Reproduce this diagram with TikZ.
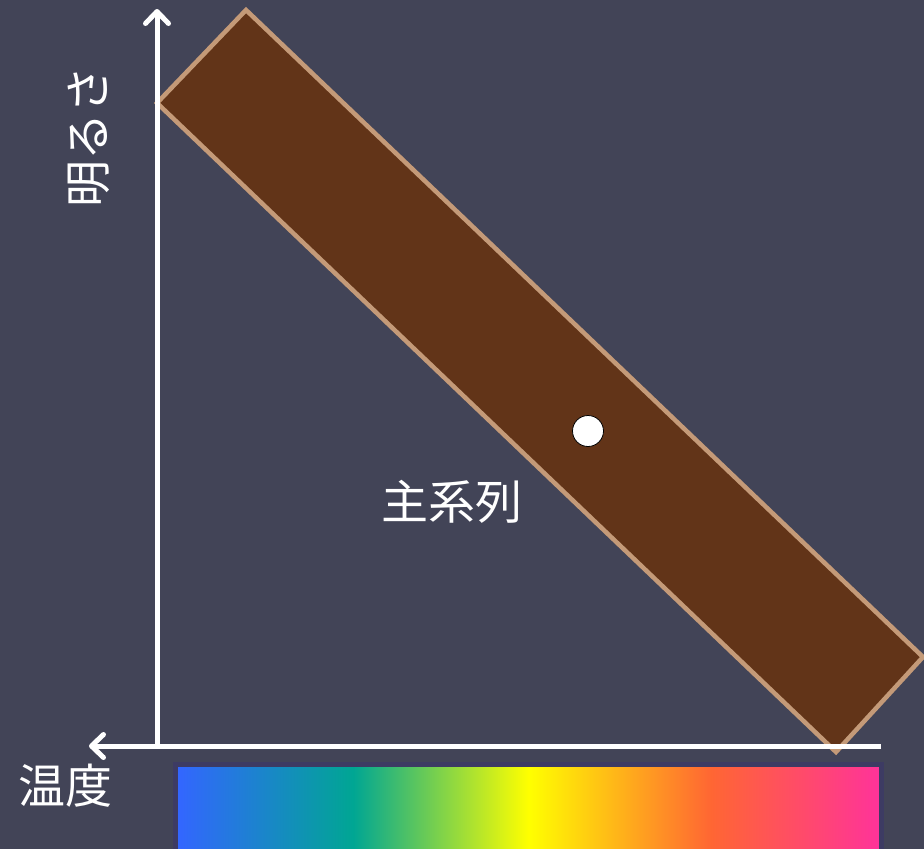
\documentclass[tikz,border=0pt]{standalone}
\usepackage{fontspec}
\newfontfamily\jp{Noto Sans CJK JP}
\usetikzlibrary{arrows.meta}
\definecolor{bg}{HTML}{424457}
\definecolor{bandfill}{HTML}{623418}
\definecolor{bandedge}{HTML}{C49A78}
\definecolor{barborder}{HTML}{3D3B63}
\definecolor{cA}{HTML}{3366FF}
\definecolor{cB}{HTML}{00A693}
\definecolor{cC}{HTML}{FFFF00}
\definecolor{cD}{HTML}{FF6633}
\definecolor{cE}{HTML}{FF3399}
\pgfdeclarehorizontalshading{spectrum}{100bp}{color(0bp)=(cA); color(25bp)=(cA); color(37.5bp)=(cB); color(50bp)=(cC); color(63bp)=(cD); color(75bp)=(cE); color(100bp)=(cE)}
\tikzset{
  axis/.style={draw=white, line width=5pt,
    -{Straight Barb[length=12pt, width=23pt, line cap=round, line join=round]}},
  label/.style={text=white, font=\jp\fontsize{47}{52}\selectfont, inner sep=0pt},
  band/.style={fill=bandfill, draw=bandedge, line width=4.5pt, line join=miter},
  star/.style={circle, fill=white, draw=black, line width=0.8pt, minimum size=31pt, inner sep=0pt}
}
\begin{document}
\begin{tikzpicture}[x=1pt, y=-1pt]
  \useasboundingbox (0,0) rectangle (924,849);
  \fill[bg] (0,0) rectangle (924,849);
  % band
  \draw[band] (246,10) -- (923,657) -- (836,752) -- (157,103) -- cycle;
  % spectrum bar
  \shade[shading=spectrum] (178,767) rectangle (879,849);
  \draw[barborder, line width=5pt] (175.5,851) -- (175.5,764.5) -- (881.5,764.5) -- (881.5,851);
  % axes
  \coordinate (ytop) at (157,9);
  \coordinate (xright) at (881,746);
  \coordinate (xleft) at (89,746);
  \coordinate (ybottom) at (157,743.5);
  \draw[axis] (ybottom) -- (ytop);
  \draw[axis] (xright) -- (xleft);
  % dot
  \node[star] (sun) at (588,431) {};
  % labels
  \node[label] (ms) at (452,502) {主系列};
  \node[label] (temp) at (65,786) {温度};
  \node[label, rotate=90] (bright) at (89,137) {明るさ};
\end{tikzpicture}
\end{document}
